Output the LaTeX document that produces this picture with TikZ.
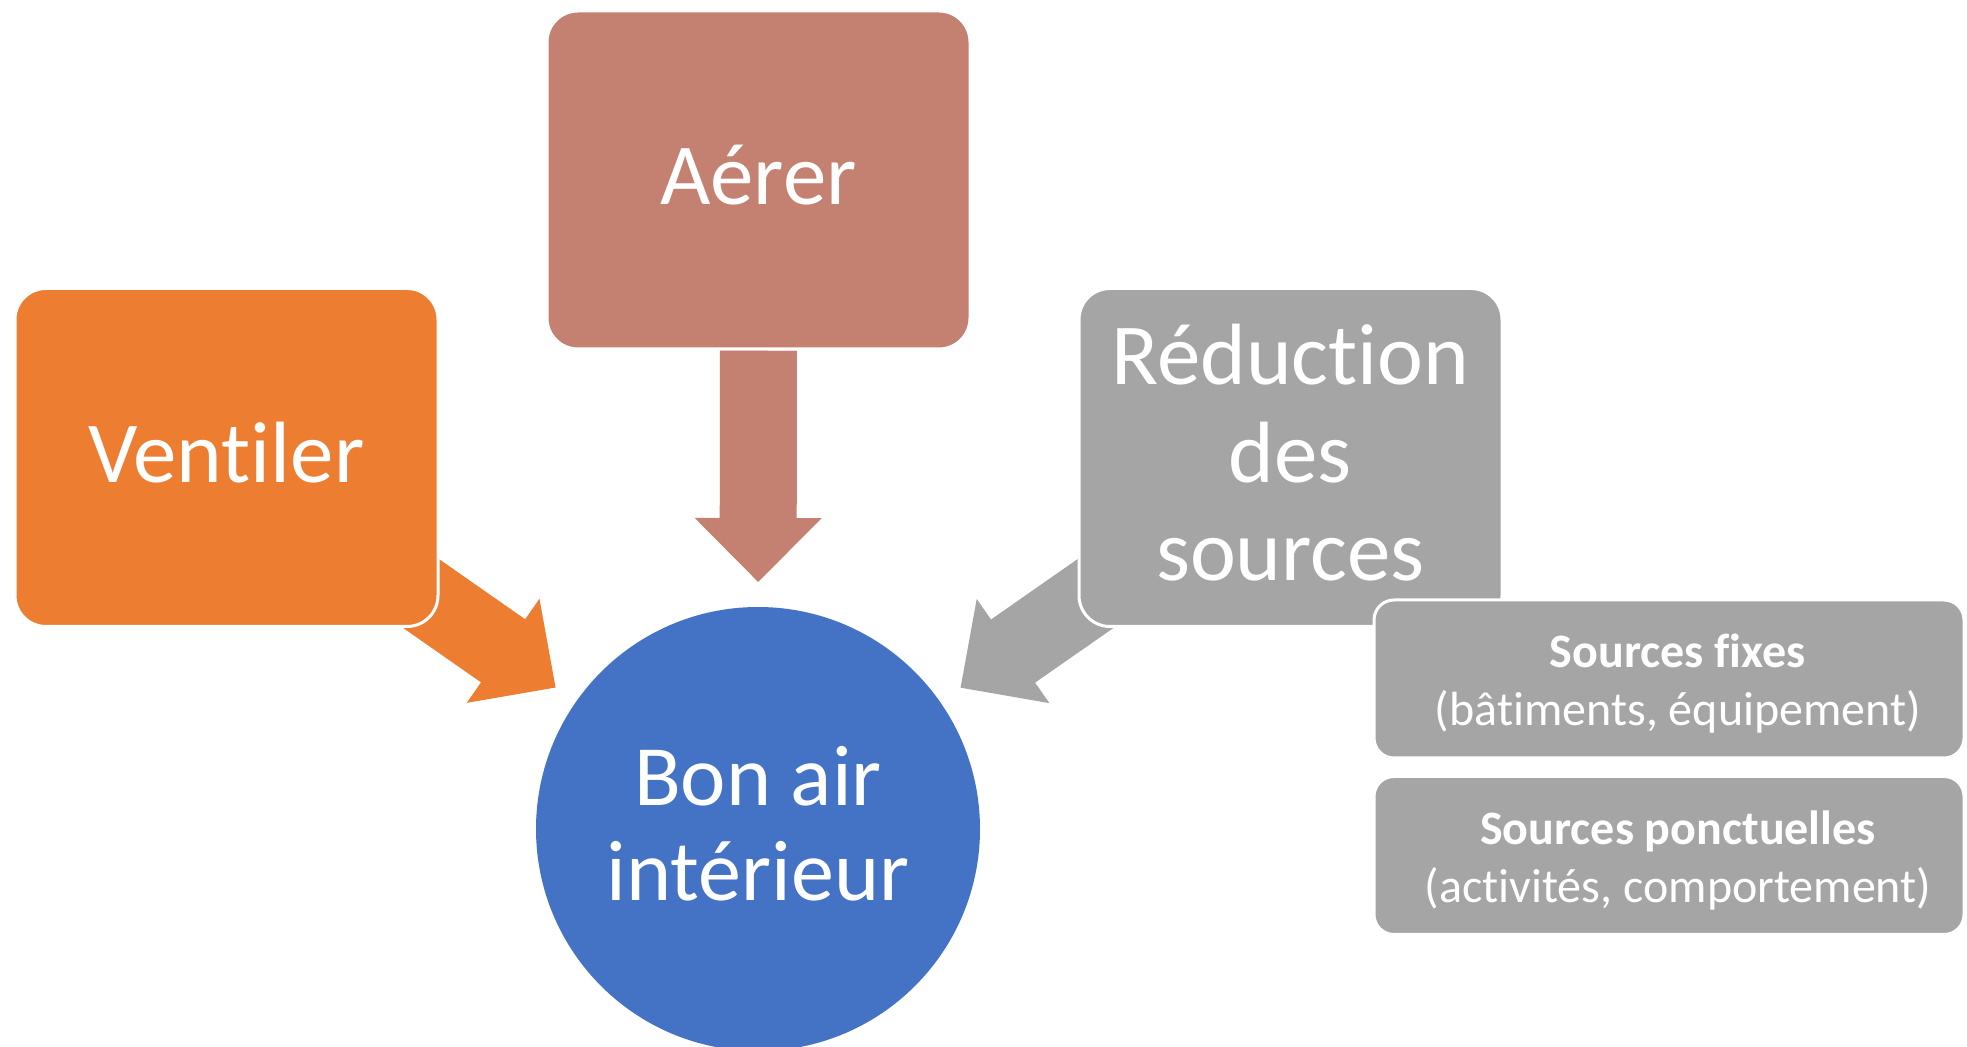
\documentclass[tikz,border=0pt]{standalone}
\usepackage{fontspec}
\setmainfont{Carlito}[Ligatures={NoCommon}]
\usetikzlibrary{calc}
\definecolor{orangeA}{HTML}{ED7D31}
\definecolor{blueA}{HTML}{4472C4}
\definecolor{grayA}{HTML}{A5A5A5}
\definecolor{roseA}{HTML}{C48070}
\newcommand{\fatarrow}[3]{%
  \coordinate (fs) at ($(#1)!85.25pt!(#2)$);
  \coordinate (fh) at ($(#2)!155.5pt!(#1)$);
  \coordinate (ft) at ($(#2)!123.5pt!(#1)$);
  \fill[#3] ($(fs)!19.25pt!90:(ft)$) -- ($(fh)!19.25pt!90:(ft)$) -- ($(fh)!31.75pt!90:(ft)$) -- (ft)
    -- ($(fh)!31.75pt!-90:(ft)$) -- ($(fh)!19.25pt!-90:(ft)$) -- ($(fs)!19.25pt!-90:(ft)$) -- cycle;
}
\newcommand{\lowstrut}{\rule[-5.5pt]{0pt}{5.5pt}}
\tikzset{
  bigbox/.style={rectangle, rounded corners=15.5pt, draw=white, line width=1.5pt,
    minimum width=211.5pt, minimum height=169pt, inner sep=0pt, text=white,
    align=center, font=\fontsize{43.5pt}{49pt}\selectfont},
  hub/.style={circle, fill=blueA, minimum size=222pt, inner sep=0pt, text=white,
    align=center, font=\fontsize{43pt}{47.5pt}\selectfont},
  subbox/.style={rectangle, rounded corners=10pt, draw=white, line width=1.5pt, fill=grayA,
    minimum width=295pt, minimum height=79pt, inner sep=0pt},
  subtext/.style={inner sep=0pt, text=white, align=center,
    font=\fontsize{24pt}{29pt}\selectfont}
}
\begin{document}
\begin{tikzpicture}[x=0.5pt,y=-0.5pt]
\clip (0,0) rectangle (1967,1047);
\useasboundingbox (0,0) rectangle (1967,1047);
\fill[white] (0,0) rectangle (1967,1047);
\node[hub] (bon) at (758,829) {Bon air\\intérieur\lowstrut};
\coordinate (cA) at (758.5,180);
\coordinate (cV) at (226.5,457.5);
\coordinate (cR) at (1290.5,457.5);
\fatarrow{cA}{bon.center}{roseA}
\fatarrow{cV}{bon.center}{orangeA}
\fatarrow{cR}{bon.center}{grayA}
\node[bigbox, fill=roseA] (aerer) at (cA) {Aérer\lowstrut};
\node[bigbox, fill=orangeA] (vent) at (cV) {Ventiler\lowstrut};
\node[bigbox, fill=grayA] (reduc) at (cR) {Réduction\\des\\sources\lowstrut};
\node[subbox] (fixes) at (1669,679) {};
\node[subtext] (fixesT) at ([xshift=4.5pt,yshift=-2.5pt]fixes.center) {\textbf{Sources fixes}\\(bâtiments, équipement)};
\node[subbox] (ponct) at (1669,855.5) {};
\node[subtext] (ponctT) at ([xshift=4.5pt,yshift=-2.5pt]ponct.center) {\textbf{Sources ponctuelles}\\(activités, comportement)};
\end{tikzpicture}
\end{document}
